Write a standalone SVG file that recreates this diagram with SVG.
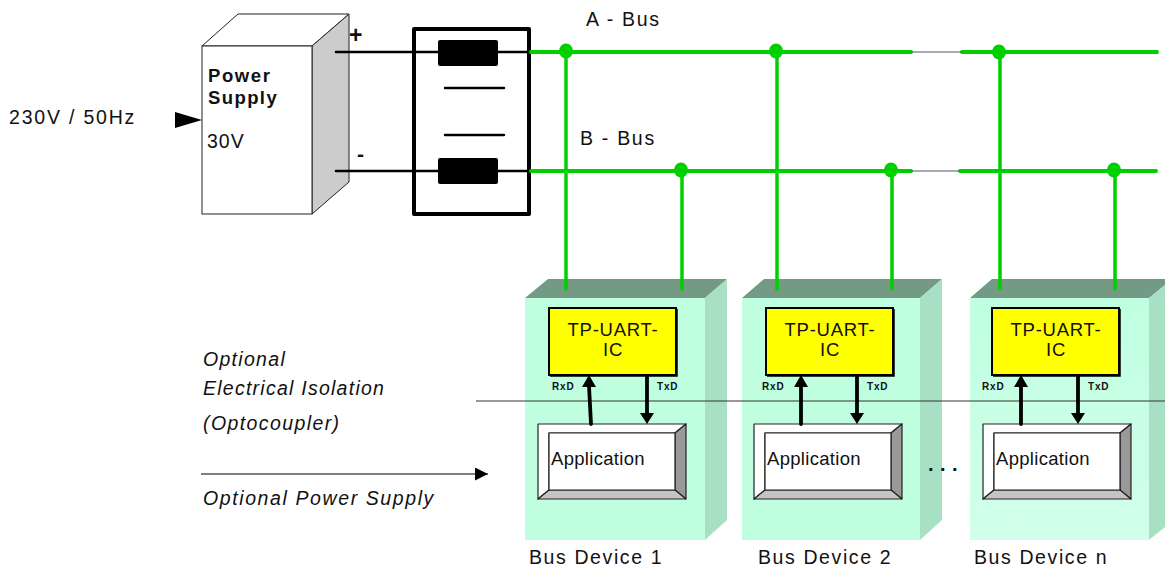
<svg xmlns="http://www.w3.org/2000/svg" width="1165" height="569" viewBox="0 0 1165 569">
<style>
text{font-family:"Liberation Sans",Arial,sans-serif;fill:#111;font-size:19.5px;letter-spacing:1.6px}
.b{font-weight:700;font-size:18.5px}.i{font-style:italic}
.s{font-size:10px;font-weight:700;letter-spacing:.8px}
.c{text-anchor:middle;font-size:18.5px;letter-spacing:.75px}
.a{font-size:18.5px;letter-spacing:.3px}
.front{fill:#bfffe0}.top{fill:#739a85}.side{fill:#a8e0c4}
.g{fill:none;stroke:#00d000;stroke-linecap:round}
.k{fill:none;stroke:#000;stroke-linecap:round}
.chip{fill:#ff0;stroke:#000;stroke-width:2}
.bev{stroke:#222;stroke-width:1.2;stroke-linejoin:round}
.dot{fill:#00d000}
</style>
<defs>
<linearGradient id="fade" x1="0" y1="0" x2="0" y2="1"><stop offset="0" stop-color="#bfffe0"/><stop offset="1" stop-color="#d2ffea"/></linearGradient>
<marker id="ah" markerUnits="userSpaceOnUse" markerWidth="14" markerHeight="13" refX="13" refY="6.5" orient="auto"><path d="M0 0L13 6.5L0 13Z" fill="#000"/></marker>
</defs>

<g id="device-1">
<path class="front" d="M525 298H705V540H525Z"/><path class="top" d="M525 298L548 279H727L705 298Z"/><path class="side" d="M705 298L727 279V520L705 540Z"/>
<rect class="chip" x="549" y="308" width="127" height="67"/><path d="M677 309V376H550" fill="none" stroke="#000" stroke-width="1.5"/>
<text class="c" x="613" y="336">TP-UART-</text><text class="c" x="613" y="356">IC</text>
<text class="s" x="552" y="390">RxD</text><text class="s" x="657" y="390">TxD</text>
<path class="bev" fill="#fff" d="M538 424H686L675 433H549V490L538 499Z"/><path class="bev" fill="#999" d="M686 424V499L675 490V433Z"/><path class="bev" fill="#c4c4c4" d="M538 499H686L675 490H549Z"/><rect class="bev" fill="#fff" x="549" y="433" width="126" height="57"/>
<text class="a" x="551" y="465">Application</text>
<text x="529" y="564">Bus Device 1</text>
</g>
<g id="device-2">
<path class="front" d="M742 298H920V540H742Z"/><path class="top" d="M742 298L764 279H942L920 298Z"/><path class="side" d="M920 298L942 279V520L920 540Z"/>
<rect class="chip" x="766" y="308" width="127" height="67"/><path d="M894 309V376H767" fill="none" stroke="#000" stroke-width="1.5"/>
<text class="c" x="830" y="336">TP-UART-</text><text class="c" x="830" y="356">IC</text>
<text class="s" x="762" y="390">RxD</text><text class="s" x="867" y="390">TxD</text>
<path class="bev" fill="#fff" d="M754 424H902L891 433H765V490L754 499Z"/><path class="bev" fill="#999" d="M902 424V499L891 490V433Z"/><path class="bev" fill="#c4c4c4" d="M754 499H902L891 490H765Z"/><rect class="bev" fill="#fff" x="765" y="433" width="126" height="57"/>
<text class="a" x="767" y="465">Application</text>
<text x="758" y="564">Bus Device 2</text>
</g>
<g id="device-n">
<path fill="url(#fade)" d="M970 298H1149V540H970Z"/><path class="top" d="M970 298L992 279H1165V285L1149 298Z"/><path class="side" d="M1149 298L1165 285V527L1149 540Z"/>
<rect class="chip" x="992" y="308" width="127" height="67"/><path d="M1120 309V376H993" fill="none" stroke="#000" stroke-width="1.5"/>
<text class="c" x="1056" y="336">TP-UART-</text><text class="c" x="1056" y="356">IC</text>
<text class="s" x="982" y="390">RxD</text><text class="s" x="1088" y="390">TxD</text>
<path class="bev" fill="#fff" d="M983 424H1131L1120 433H994V490L983 499Z"/><path class="bev" fill="#999" d="M1131 424V499L1120 490V433Z"/><path class="bev" fill="#c4c4c4" d="M983 499H1131L1120 490H994Z"/><rect class="bev" fill="#fff" x="994" y="433" width="126" height="57"/>
<text class="a" x="996" y="465">Application</text>
<text x="974" y="564">Bus Device n</text>
</g>

<g id="power-supply">
<path d="M202 46L238 14H349L312 46Z" fill="#fff" stroke="#222" stroke-width="1" stroke-linejoin="round"/>
<path d="M312 46L349 14V182L312 214Z" fill="#ccc" stroke="#222" stroke-width="1" stroke-linejoin="round"/>
<rect x="202" y="46" width="110" height="168" fill="#fff" stroke="#222" stroke-width="1"/>
<text class="b" x="208" y="82" style="letter-spacing:1.6px">Power</text><text class="b" x="208" y="104" style="letter-spacing:1.4px">Supply</text><text x="207" y="148" style="letter-spacing:1px">30V</text>
</g>
<g id="filter">
<rect x="414" y="29" width="115" height="185" fill="#fff" stroke="#000" stroke-width="4" stroke-linejoin="round"/>
<path class="k" stroke-width="2.4" d="M445 88H504M445 135H504"/>
</g>

<g id="connectors">
<path class="k" stroke-width="2.6" d="M336 52H530M336 171H530"/>
<rect x="438" y="40" width="60" height="26" rx="2" fill="#000"/>
<rect x="438" y="158" width="60" height="26" rx="2" fill="#000"/>
<path class="g" stroke-width="4" d="M531 52H911M962 52H1157M531 171H911M960 171H1156"/>
<path fill="none" stroke="#555" stroke-width="1" d="M911 52H962M911 171H960"/>
<path class="g" stroke-width="3.5" d="M566 52V289M777 52V289M1000 52V289M682 171V289M892 171V289M1115 171V289"/>
<ellipse class="dot" cx="566" cy="51" rx="7" ry="7.5"/><ellipse class="dot" cx="776" cy="51" rx="7" ry="7.5"/><ellipse class="dot" cx="999" cy="52" rx="7" ry="7.5"/>
<ellipse class="dot" cx="681" cy="170" rx="7" ry="7.5"/><ellipse class="dot" cx="891" cy="170" rx="7" ry="7.5"/><ellipse class="dot" cx="1114" cy="170" rx="7" ry="7.5"/>
<path d="M175 112L202 120L175 128Z" fill="#000"/>
<path d="M476 401H1165" stroke="#333" stroke-width="1"/>
<path d="M201 474H488" stroke="#000" stroke-width="1.2" marker-end="url(#ah)"/>
<path class="k" stroke-width="3.8" stroke-linecap="butt" d="M591 424L589 386M647 376V414M801 424V386M857 376V414M1021 424V386M1078 376V414"/>
<path d="M589 375L596 387H582ZM647 424L640 413H654ZM801 375L808 387H794ZM857 424L850 413H864ZM1021 375L1028 387H1014ZM1078 424L1071 413H1085Z" fill="#000"/>
</g>

<g id="labels">
<text x="9" y="124" style="letter-spacing:1.8px">230V / 50Hz</text>
<text x="586" y="26" style="letter-spacing:1.7px">A - Bus</text><text x="580" y="145" style="letter-spacing:1.7px">B - Bus</text>
<text class="b" x="349" y="43" style="font-size:23px;letter-spacing:0">+</text><text class="b" x="357" y="161" style="font-size:21px;letter-spacing:0">-</text>
<text class="i" x="203" y="366" style="letter-spacing:1.3px">Optional</text><text class="i" x="203" y="395" style="letter-spacing:1.25px">Electrical Isolation</text><text class="i" x="203" y="430" style="letter-spacing:1.4px">(Optocoupler)</text><text class="i" x="203" y="505">Optional Power Supply</text>
<text class="b" x="928" y="471" style="font-size:20px;letter-spacing:6.5px">...</text>
</g>
</svg>
